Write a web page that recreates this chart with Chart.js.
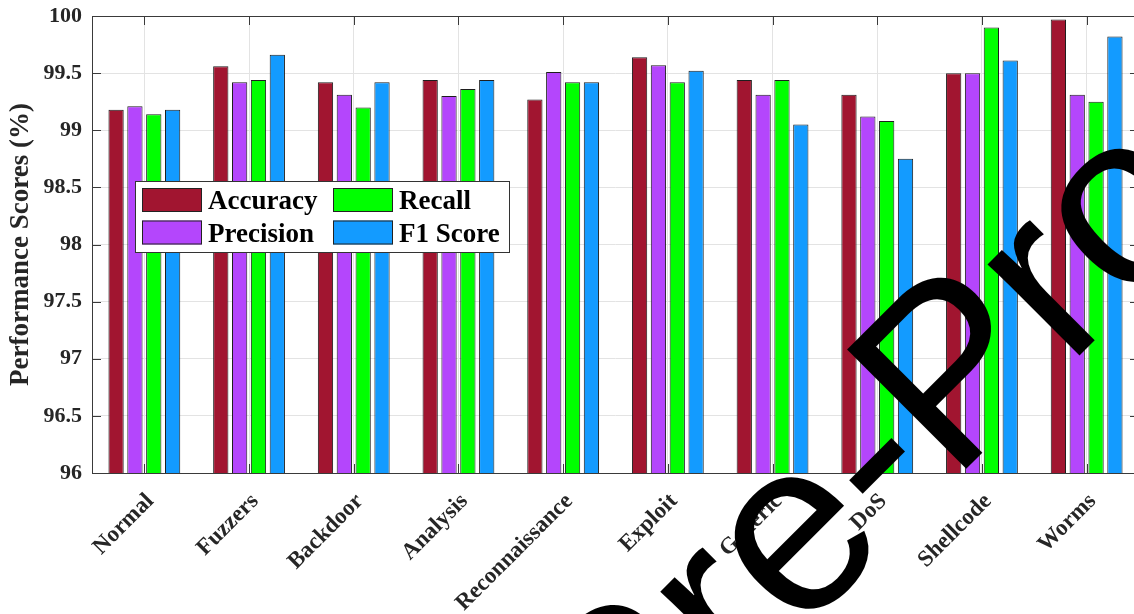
<!DOCTYPE html>
<html>
<head>
<meta charset="utf-8">
<script src="https://cdn.jsdelivr.net/npm/chart.js@4.4.0/dist/chart.umd.min.js"></script>
<style>
html, body { margin: 0; padding: 0; background: #fff; overflow: hidden; }
#wrap { position: relative; width: 1140px; height: 614px; }
</style>
</head>
<body>
<div id="wrap"><canvas id="scores"></canvas></div>
<script>
var categories = ['Normal', 'Fuzzers', 'Backdoor', 'Analysis', 'Reconnaissance', 'Exploit', 'Generic', 'DoS', 'Shellcode', 'Worms'];
var accuracy  = [99.18, 99.56, 99.42, 99.44, 99.27, 99.64, 99.44, 99.31, 99.50, 99.97];
var precision = [99.21, 99.42, 99.31, 99.30, 99.51, 99.57, 99.31, 99.12, 99.50, 99.31];
var recall    = [99.14, 99.44, 99.20, 99.36, 99.42, 99.42, 99.44, 99.08, 99.90, 99.25];
var f1Score   = [99.18, 99.66, 99.42, 99.44, 99.42, 99.52, 99.05, 98.75, 99.61, 99.82];
var seriesNames = ['Accuracy', 'Precision', 'Recall', 'F1 Score'];
var seriesColors = ['#A11530', '#B446FC', '#00FF00', '#139BFF'];
var yMin = 96, yMax = 100, yStep = 0.5;

var serif = '"Liberation Serif", "Times New Roman", serif';
var ink = '#262626';

var datasets = [accuracy, precision, recall, f1Score].map(function(values, i) {
    return {
        label: seriesNames[i],
        data: values,
        backgroundColor: seriesColors[i],
        borderColor: '#1e1e1e',
        borderWidth: 1,
        categoryPercentage: 0.72,
        barPercentage: 0.81
    };
});

// box around the axes plus the short inward tick marks on every side
var framePlugin = {
    id: 'frame',
    afterDatasetsDraw: function(chart) {
        var ctx = chart.ctx, a = chart.chartArea;
        var xs = chart.scales.x, ys = chart.scales.y;
        ctx.save();
        ctx.strokeStyle = '#3a3a3a';
        ctx.lineWidth = 1;
        ctx.beginPath();
        ys.ticks.forEach(function(t) {
            var py = Math.round(ys.getPixelForValue(t.value)) + 0.5;
            ctx.moveTo(a.left, py); ctx.lineTo(a.left + 9, py);
            ctx.moveTo(a.right, py); ctx.lineTo(a.right - 9, py);
        });
        categories.forEach(function(c, i) {
            var px = Math.round(xs.getPixelForValue(i)) + 0.5;
            ctx.moveTo(px, a.top); ctx.lineTo(px, a.top + 9);
            ctx.moveTo(px, a.bottom); ctx.lineTo(px, a.bottom - 9);
        });
        ctx.stroke();
        ctx.strokeRect(Math.round(a.left) + 0.5, Math.round(a.top) + 0.5,
            Math.round(a.right - a.left), Math.round(a.bottom - a.top));
        ctx.restore();
    }
};

// two-column legend sitting inside the plot
var legendPlugin = {
    id: 'boxLegend',
    afterDatasetsDraw: function(chart) {
        var ctx = chart.ctx;
        ctx.save();
        ctx.fillStyle = '#fff';
        ctx.fillRect(135.5, 181.5, 374, 71);
        ctx.strokeStyle = '#333';
        ctx.lineWidth = 1;
        ctx.strokeRect(135.5, 181.5, 374, 71);
        ctx.font = 'bold 27px ' + serif;
        ctx.textAlign = 'left';
        ctx.textBaseline = 'alphabetic';
        chart.data.datasets.forEach(function(ds, i) {
            var col = Math.floor(i / 2), row = i % 2;
            var sx = 142 + col * 191, sy = 188 + row * 32.5;
            ctx.fillStyle = ds.backgroundColor;
            ctx.fillRect(sx, sy, 60, 24);
            ctx.strokeStyle = '#222';
            ctx.strokeRect(sx + 0.5, sy + 0.5, 59, 23);
            ctx.fillStyle = '#000';
            ctx.fillText(ds.label, sx + 66, sy + 21);
        });
        ctx.restore();
    }
};

// slanted stamp across the lower right
var stampPlugin = {
    id: 'stamp',
    afterDraw: function(chart) {
        var ctx = chart.ctx;
        ctx.save();
        ctx.font = '245px "Liberation Sans", Arial, sans-serif';
        var lead = ctx.measureText('Pre-').width;
        ctx.translate(952, 483);
        ctx.rotate(-Math.PI / 4);
        ctx.fillStyle = '#000';
        ctx.textAlign = 'left';
        ctx.textBaseline = 'alphabetic';
        ctx.fillText('Pre-Proof', -lead, 0);
        ctx.restore();
    }
};

new Chart(document.getElementById('scores'), {
    type: 'bar',
    data: {
        labels: categories,
        datasets: datasets
    },
    options: {
        responsive: true,
        maintainAspectRatio: false,
        animation: false,
        layout: { padding: { top: 16, right: 1, left: 0, bottom: 0 } },
        plugins: {
            legend: { display: false },
            tooltip: { enabled: false }
        },
        scales: {
            x: {
                offset: true,
                grid: { offset: false, color: '#e3e3e3', drawTicks: false },
                border: { display: false },
                ticks: {
                    color: ink,
                    font: { family: serif, size: 23, weight: 'bold' },
                    minRotation: 45,
                    maxRotation: 45,
                    autoSkip: false,
                    padding: 15,
                    labelOffset: 6
                },
                afterFit: function(s) { s.height = 141; }
            },
            y: {
                min: yMin,
                max: yMax,
                grid: { color: '#e3e3e3', drawTicks: false },
                border: { display: false },
                ticks: {
                    stepSize: yStep,
                    color: ink,
                    padding: 10,
                    font: { family: serif, size: 22, weight: 'bold' },
                    callback: function(v) { return String(+Number(v).toFixed(1)); }
                },
                title: {
                    display: true,
                    text: 'Performance Scores (%)',
                    color: ink,
                    padding: { top: 5, bottom: 0 },
                    font: { family: serif, size: 27, weight: 'bold' }
                },
                afterFit: function(s) {
                    s.width = 92;
                    s.paddingTop = 0;
                    s.paddingBottom = 0;
                }
            }
        }
    },
    plugins: [framePlugin, legendPlugin, stampPlugin]
});
</script>
</body>
</html>
